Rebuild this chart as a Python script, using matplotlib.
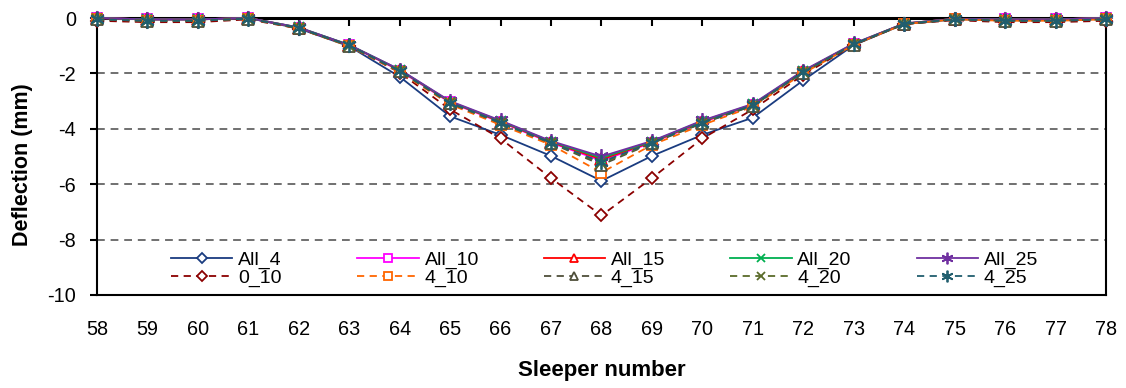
import matplotlib
matplotlib.use("Agg")
import matplotlib.pyplot as plt
from matplotlib.legend import Legend

plt.rcParams['font.family'] = ['Liberation Sans', 'DejaVu Sans']

sleepers = list(range(58, 79))

all_4 = [0.0, -0.05, -0.05, 0.0, -0.38, -1.02, -2.12, -3.55, -4.22, -4.98, -5.88,
         -4.98, -4.22, -3.6, -2.25, -0.98, -0.22, -0.05, -0.05, -0.05, 0.0]
all_10 = [0.0, -0.05, -0.05, 0.0, -0.35, -0.98, -1.9, -3.05, -3.76, -4.5, -5.15,
          -4.5, -3.76, -3.15, -1.95, -0.95, -0.2, -0.03, -0.05, -0.05, 0.0]
all_15 = [0.0, -0.05, -0.05, 0.0, -0.35, -0.98, -1.88, -3.03, -3.74, -4.48, -5.1,
          -4.48, -3.74, -3.13, -1.93, -0.94, -0.2, -0.03, -0.05, -0.05, 0.0]
all_20 = [0.0, -0.05, -0.05, 0.0, -0.34, -0.97, -1.87, -3.02, -3.72, -4.46, -5.05,
          -4.46, -3.72, -3.12, -1.92, -0.93, -0.2, -0.03, -0.05, -0.05, 0.0]
all_25 = [0.0, -0.05, -0.05, 0.0, -0.34, -0.97, -1.86, -3.0, -3.7, -4.44, -5.0,
          -4.44, -3.7, -3.1, -1.9, -0.92, -0.2, -0.03, -0.05, -0.05, 0.0]
z_10 = [-0.1, -0.15, -0.15, -0.05, -0.38, -1.0, -1.97, -3.3, -4.35, -5.78, -7.13,
        -5.78, -4.35, -3.3, -2.05, -0.97, -0.22, -0.08, -0.15, -0.15, -0.1]
f_10 = [-0.05, -0.1, -0.1, -0.02, -0.38, -1.02, -1.95, -3.12, -3.86, -4.58, -5.58,
        -4.58, -3.86, -3.2, -2.0, -0.97, -0.22, -0.05, -0.1, -0.1, -0.05]
f_15 = [-0.05, -0.1, -0.1, -0.02, -0.37, -1.0, -1.93, -3.08, -3.8, -4.52, -5.3,
        -4.52, -3.8, -3.17, -1.97, -0.96, -0.22, -0.05, -0.1, -0.1, -0.05]
f_20 = [-0.05, -0.1, -0.1, -0.02, -0.37, -1.0, -1.92, -3.07, -3.79, -4.51, -5.25,
        -4.51, -3.79, -3.16, -1.96, -0.95, -0.22, -0.05, -0.1, -0.1, -0.05]
f_25 = [-0.05, -0.1, -0.1, -0.02, -0.36, -0.99, -1.91, -3.06, -3.78, -4.5, -5.2,
        -4.5, -3.78, -3.15, -1.95, -0.95, -0.21, -0.05, -0.1, -0.1, -0.05]

labels = ['All_4', 'All_10', 'All_15', 'All_20', 'All_25',
          '0_10', '4_10', '4_15', '4_20', '4_25']
series = [all_4, all_10, all_15, all_20, all_25, z_10, f_10, f_15, f_20, f_25]
colors = ['#1A3C80', '#FF00FF', '#FF0000', '#00B050', '#7030A0',
          '#8B0000', '#FF6600', '#4F4F3A', '#5A6B2A', '#215E6E']
markers = ['D', 's', '^', 'x', (6, 2, 0), 'D', 's', '^', 'x', (6, 2, 0)]
sizes = [6.5, 7.5, 8, 7.5, 10.5, 6.5, 7.5, 8, 7.5, 10.5]
styles = ['-'] * 5 + [(0, (4, 3))] * 5

fig = plt.figure(figsize=(11.26, 3.88), dpi=100)
ax = fig.add_axes([0.0861, 0.2397, 0.8961, 0.7139])

handles = []
for y, lab, c, m, ms, ls in zip(series, labels, colors, markers, sizes, styles):
    h, = ax.plot(sleepers, y, color=c, linestyle=ls, linewidth=1.3, marker=m,
                 markersize=ms, markerfacecolor='white', markeredgecolor=c,
                 markeredgewidth=1.3, label=lab, clip_on=False, zorder=3)
    handles.append(h)

ax.set_xlim(58, 78)
ax.set_ylim(-10, 0)
ax.set_xticks(sleepers)
ax.set_yticks(range(-10, 1, 2))
ax.set_yticklabels([str(v) for v in range(-10, 1, 2)])
for v in range(-8, 0, 2):
    ax.axhline(v, color='#707070', linestyle=(0, (4, 3)), linewidth=1.4, zorder=1)

for s in ax.spines.values():
    s.set_color('black')
    s.set_linewidth(1.5)
ax.spines['top'].set_linewidth(2.2)

ax.tick_params(axis='x', top=True, bottom=False, direction='in', length=6,
               width=1.5, pad=18, labelsize=14.3)
ax.tick_params(axis='y', direction='out', length=5, width=1.5, pad=10, labelsize=14.3)

ax.set_xlabel('Sleeper number', fontsize=16, fontweight='bold', labelpad=15)
ax.set_ylabel('Deflection (mm)', fontsize=15.5, fontweight='bold')
ax.yaxis.set_label_coords(-0.063, 0.47)

# legend laid out as five evenly spaced columns (solid series on top, dashed below)
for j in range(5):
    pair = [handles[j], handles[j + 5]]
    leg = Legend(ax, pair, [labels[j], labels[j + 5]], loc='center left',
                 bbox_to_anchor=(0.0733 + 0.1848 * j, 0.094), frameon=False,
                 fontsize=14, handlelength=3.15, handletextpad=0.3,
                 labelspacing=0.0, borderpad=0, borderaxespad=0, markerscale=0.8)
    ax.add_artist(leg)

fig.savefig('out.png', dpi=100)
